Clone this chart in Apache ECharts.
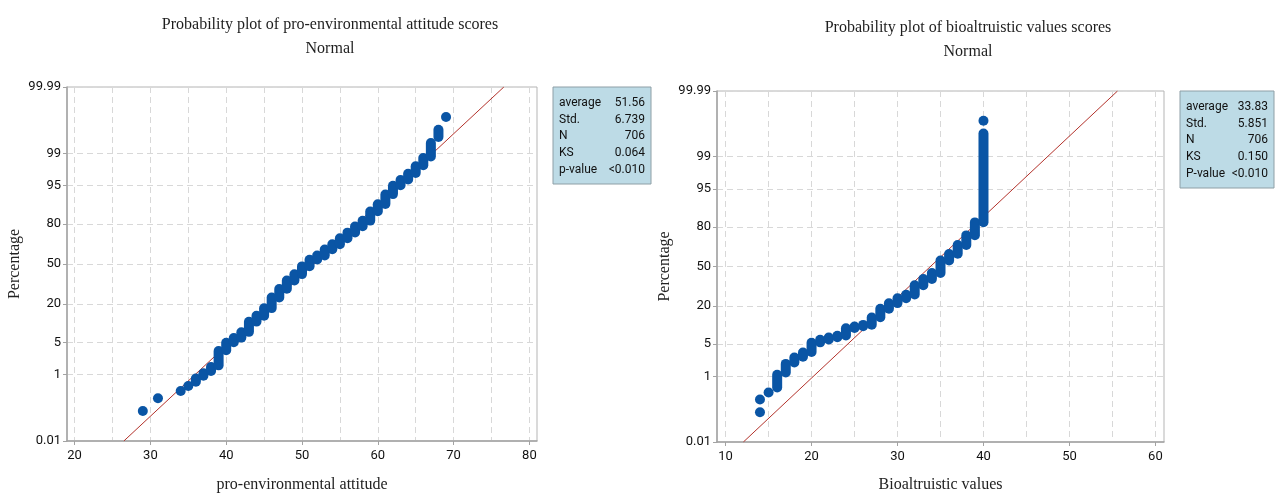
<!DOCTYPE html>
<html>
<head>
<meta charset="utf-8">
<script src="https://cdn.jsdelivr.net/npm/echarts@6/dist/echarts.min.js"></script>
<style>
  html, body { margin: 0; padding: 0; background: #fff; }
  #chart { width: 1276px; height: 498px; }
</style>
</head>
<body>
<div id="chart"></div>
<script>
// ---- left plot: pro-environmental attitude ----
const scoresL = [29, 31, 34, 35, 36, 37, 38, 39, 40, 41, 42, 43, 44, 45, 46, 47, 48, 49, 50, 51, 52, 53, 54, 55, 56, 57, 58, 59, 60, 61, 62, 63, 64, 65, 66, 67, 68, 69];
const lowL = [0.10, 0.24, 0.38, 0.52, 0.67, 0.95, 1.23, 1.66, 3.5, 5.0, 6.1, 7.7, 11.3, 13.9, 17.7, 24.1, 30.1, 36.5, 41.6, 48.1, 53.7, 57.1, 62.1, 66.1, 70.6, 74.6, 78.6, 81.9, 86.6, 89.6, 92.9, 95.1, 96.2, 97.2, 98.1, 98.8, 99.62, 99.90];
const highL = [0.10, 0.24, 0.38, 0.52, 0.81, 1.09, 1.52, 3.36, 4.9, 6.0, 7.6, 11.2, 13.8, 17.6, 24.0, 30.0, 36.4, 41.5, 48.0, 53.6, 57.0, 62.0, 66.0, 70.5, 74.5, 78.5, 81.8, 86.5, 89.5, 92.8, 95.0, 96.1, 97.1, 98.0, 98.7, 99.45, 99.76, 99.90];
const statNamesL = ['average', 'Std.', 'N', 'KS', 'p-value'];
const statValuesL = ['51.56', '6.739', '706', '0.064', '<0.010'];
const meanL = 51.56, stdL = 6.739;

// ---- right plot: bioaltruistic values ----
const scoresR = [14, 14, 15, 16, 17, 18, 19, 20, 21, 22, 23, 24, 25, 26, 27, 28, 29, 30, 31, 32, 33, 34, 35, 36, 37, 38, 39, 40, 40];
const lowR = [0.10, 0.24, 0.38, 0.52, 1.23, 2.1, 2.8, 3.5, 5.4, 6.1, 6.7, 7.2, 9.6, 10.3, 10.9, 14.1, 18.6, 21.9, 25.1, 27.6, 34.6, 39.6, 44.6, 55.1, 60.6, 67.6, 74.6, 82.6, 99.90];
const highR = [0.10, 0.24, 0.38, 1.09, 1.95, 2.7, 3.4, 5.3, 6.0, 6.6, 7.1, 9.5, 10.2, 10.8, 14.0, 18.5, 21.8, 25.0, 27.5, 34.5, 39.5, 44.5, 55.0, 60.5, 67.5, 74.5, 82.5, 99.76, 99.90];
const statNamesR = ['average', 'Std.', 'N', 'KS', 'P-value'];
const statValuesR = ['33.83', '5.851', '706', '0.150', '<0.010'];
const meanR = 33.83, stdR = 5.851;

// probability scale
const yTicks = [0.01, 1, 5, 20, 50, 80, 95, 99, 99.99];
const xTicksL = [20, 30, 40, 50, 60, 70, 80];
const xGridL = [20, 25, 30, 35, 40, 45, 50, 55, 60, 65, 70, 75, 80];
const xTicksR = [10, 20, 30, 40, 50, 60];
const xGridR = [10, 15, 20, 25, 30, 35, 40, 45, 50, 55, 60];

const DOT = '#0a55a5';
const FIT = '#b3322b';
const SERIF = '"Liberation Serif", "Times New Roman", serif';
const SANS = 'Roboto, "Noto Sans", sans-serif';

// inverse normal cdf (Acklam)
function probit(p) {
    const a = [-3.969683028665376e+01, 2.209460984245205e+02, -2.759285104469687e+02, 1.383577518672690e+02, -3.066479806614716e+01, 2.506628277459239e+00];
    const b = [-5.447609879822406e+01, 1.615858368580409e+02, -1.556989798598866e+02, 6.680131188771972e+01, -1.328068155922803e+01];
    const c = [-7.784894002430293e-03, -3.223964580411365e-01, -2.400758277161838e+00, -2.549732539343734e+00, 4.374664141464968e+00, 2.938163982698783e+00];
    const d = [7.784695709041462e-03, 3.224671290700398e-01, 2.445134137142996e+00, 3.754408661907416e+00];
    const pl = 0.02425;
    let q, r;
    if (p < pl) {
        q = Math.sqrt(-2 * Math.log(p));
        return (((((c[0] * q + c[1]) * q + c[2]) * q + c[3]) * q + c[4]) * q + c[5]) / ((((d[0] * q + d[1]) * q + d[2]) * q + d[3]) * q + 1);
    }
    if (p <= 1 - pl) {
        q = p - 0.5; r = q * q;
        return (((((a[0] * r + a[1]) * r + a[2]) * r + a[3]) * r + a[4]) * r + a[5]) * q / (((((b[0] * r + b[1]) * r + b[2]) * r + b[3]) * r + b[4]) * r + 1);
    }
    q = Math.sqrt(-2 * Math.log(1 - p));
    return -(((((c[0] * q + c[1]) * q + c[2]) * q + c[3]) * q + c[4]) * q + c[5]) / ((((d[0] * q + d[1]) * q + d[2]) * q + d[3]) * q + 1);
}
const z = pct => probit(pct / 100);
const zMin = z(yTicks[0]), zMax = z(yTicks[yTicks.length - 1]);
const yTickZ = yTicks.map(z);

function yLabel(v) {
    let best = 0;
    yTickZ.forEach((t, i) => { if (Math.abs(t - v) < Math.abs(yTickZ[best] - v)) best = i; });
    return String(yTicks[best]);
}

function labelAxis(grid, min, max, ticks, name, nameGap) {
    return {
        type: 'value', gridIndex: grid, min: min, max: max, position: 'bottom',
        name: name, nameLocation: 'middle', nameGap: nameGap,
        nameTextStyle: { fontFamily: SERIF, fontSize: 16, color: '#222' },
        axisLine: { show: true, onZero: false, lineStyle: { color: '#a3a3a3', width: 1.5 } },
        axisTick: { show: true, length: 4, customValues: ticks, lineStyle: { color: '#a3a3a3' } },
        axisLabel: { customValues: ticks, margin: 8, fontFamily: SANS, fontSize: 13, color: '#111' },
        splitLine: { show: false }
    };
}
function gridAxis(grid, min, max, lines) {
    return {
        type: 'value', gridIndex: grid, min: min, max: max, position: 'top',
        axisLine: { show: false, onZero: false }, axisLabel: { show: false },
        axisTick: { show: false, customValues: lines },
        splitLine: { show: true, lineStyle: { color: '#d8d8d8', type: [6, 4], width: 1 } }
    };
}
function probAxis(grid, nameGap) {
    return {
        type: 'value', gridIndex: grid, min: zMin, max: zMax,
        name: 'Percentage', nameLocation: 'middle', nameGap: nameGap,
        nameTextStyle: { fontFamily: SERIF, fontSize: 16, color: '#222' },
        axisLine: { show: true, onZero: false, lineStyle: { color: '#a3a3a3', width: 1.5 } },
        axisTick: { show: true, length: 4, customValues: yTickZ, lineStyle: { color: '#a3a3a3' } },
        axisLabel: { customValues: yTickZ, formatter: yLabel, margin: 6, fontFamily: SANS, fontSize: 13, color: '#111' },
        splitLine: { show: true, lineStyle: { color: '#d8d8d8', type: [6, 4], width: 1 } }
    };
}

function columns(xAxisIndex, yAxisIndex, scores, low, high) {
    return {
        type: 'custom', xAxisIndex: xAxisIndex, yAxisIndex: yAxisIndex, z: 3,
        data: scores.map((s, i) => [s, z(low[i]), z(high[i])]),
        encode: { x: 0, y: [1, 2] },
        renderItem: function (params, api) {
            const s = api.value(0);
            const bot = api.coord([s, api.value(1)]);
            const top = api.coord([s, api.value(2)]);
            const r = 5;
            return {
                type: 'rect',
                shape: { x: top[0] - r, y: top[1] - r, width: 2 * r, height: bot[1] - top[1] + 2 * r, r: r },
                style: { fill: DOT }
            };
        }
    };
}
function fitLine(xAxisIndex, yAxisIndex, mean, std) {
    return {
        type: 'line', xAxisIndex: xAxisIndex, yAxisIndex: yAxisIndex, z: 2,
        data: [[mean + zMin * std, zMin], [mean + zMax * std, zMax]],
        symbol: 'none', silent: true,
        lineStyle: { color: FIT, width: 1 }
    };
}
function statsBox(x, y, w, names, values) {
    const children = [{
        type: 'rect', shape: { x: 0, y: 0, width: w, height: 97 },
        style: { fill: '#bddbe6', stroke: '#8e9fa6', lineWidth: 1 }
    }];
    names.forEach((n, i) => {
        children.push({ type: 'text', style: { text: n, x: 6, y: 16 + i * 16.7, textVerticalAlign: 'middle', fontFamily: SANS, fontSize: 12, fill: '#111' } });
        children.push({ type: 'text', style: { text: values[i], x: w - 6, y: 16 + i * 16.7, textAlign: 'right', textVerticalAlign: 'middle', fontFamily: SANS, fontSize: 12, fill: '#111' } });
    });
    return { type: 'group', x: x, y: y, children: children };
}

const chart = echarts.init(document.getElementById('chart'));
chart.setOption({
    animation: false,
    backgroundColor: '#fff',
    title: [
        { text: 'Probability plot of pro-environmental attitude scores\nNormal', left: 325, top: 8, textAlign: 'center',
          textStyle: { fontFamily: SERIF, fontSize: 16, fontWeight: 'normal', lineHeight: 24, color: '#1e1e1e' } },
        { text: 'Probability plot of bioaltruistic values scores\nNormal', left: 963, top: 11, textAlign: 'center',
          textStyle: { fontFamily: SERIF, fontSize: 16, fontWeight: 'normal', lineHeight: 24, color: '#1e1e1e' } }
    ],
    grid: [
        { left: 67, top: 87, width: 470, height: 355, show: true, borderColor: '#b5b5b5', borderWidth: 1, containLabel: false },
        { left: 717, top: 91, width: 447, height: 355, show: true, borderColor: '#b5b5b5', borderWidth: 1, containLabel: false }
    ],
    xAxis: [
        labelAxis(0, 19, 81, xTicksL, 'pro-environmental attitude', 36),
        gridAxis(0, 19, 81, xGridL),
        labelAxis(1, 9, 61, xTicksR, 'Bioaltruistic values', 35),
        gridAxis(1, 9, 61, xGridR)
    ],
    yAxis: [probAxis(0, 44), probAxis(1, 44)],
    series: [
        fitLine(0, 0, meanL, stdL),
        columns(0, 0, scoresL, lowL, highL),
        fitLine(2, 1, meanR, stdR),
        columns(2, 1, scoresR, lowR, highR)
    ],
    graphic: [
        statsBox(553, 87, 98, statNamesL, statValuesL),
        statsBox(1180, 91, 94, statNamesR, statValuesR)
    ]
});
</script>
</body>
</html>
